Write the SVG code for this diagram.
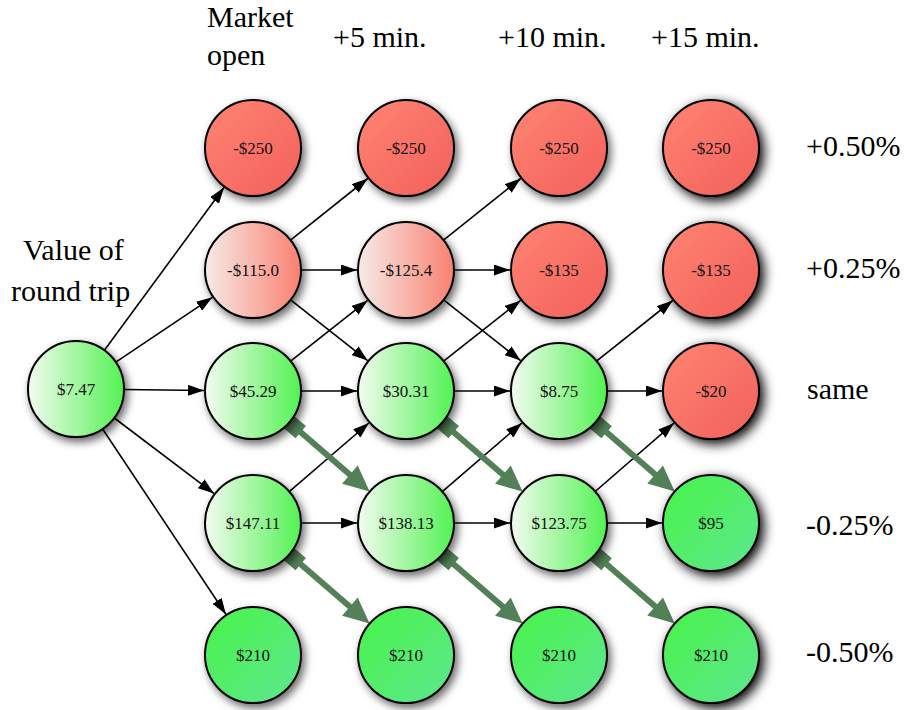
<svg xmlns="http://www.w3.org/2000/svg" width="909" height="710" viewBox="0 0 909 710">
<style>
.lbl{font-size:30px;fill:#000}
.nt{font-size:17px;fill:#111;text-anchor:middle}
.node circle{stroke:#000;stroke-width:2}
.e{stroke:#000;stroke-width:1.6;fill:none;marker-end:url(#ah)}
.g{fill:#538057;stroke:none}
.gl{stroke:#538057;stroke-width:6;fill:none}
.red{fill:url(#gRed)}
.lred{fill:url(#gLRed)}
.lgreen{fill:url(#gLGreen)}
.green{fill:url(#gGreen)}
.sh{filter:url(#shadow)}
.sh2{filter:url(#shadow2)}
</style>
<defs>
<linearGradient id="gRed" x1="0" y1="0" x2="1" y2="1"><stop offset="0" stop-color="#ff8472"/><stop offset="1" stop-color="#f2605c"/></linearGradient>
<linearGradient id="gLRed" x1="0" y1="0" x2="1" y2="0"><stop offset="0" stop-color="#f6ebe8"/><stop offset="1" stop-color="#fa8070"/></linearGradient>
<linearGradient id="gLGreen" x1="0" y1="0" x2="1" y2="0"><stop offset="0" stop-color="#f3fcf0"/><stop offset="1" stop-color="#52f252"/></linearGradient>
<linearGradient id="gGreen" x1="0" y1="0" x2="1" y2="1"><stop offset="0" stop-color="#48f448"/><stop offset="1" stop-color="#5ee690"/></linearGradient>
<filter id="shadow" x="-30%" y="-30%" width="170%" height="170%"><feDropShadow dx="3" dy="4" stdDeviation="4" flood-color="#000" flood-opacity="0.6"/></filter>
<filter id="shadow2" x="-40%" y="-40%" width="180%" height="180%"><feDropShadow dx="4" dy="4" stdDeviation="6" flood-color="#000" flood-opacity="1"/></filter>
<marker id="ah" markerUnits="userSpaceOnUse" markerWidth="16" markerHeight="11" refX="16" refY="5.5" orient="auto"><path d="M0,0 L16,5.5 L0,11 z" fill="#000"/></marker>
</defs>

<g id="labels" font-family="Liberation Serif, Times New Roman, serif">
<text class="lbl" x="207" y="27" font-family="Liberation Serif, serif">Market</text>
<text class="lbl" x="207" y="65" font-family="Liberation Serif, serif">open</text>
<text class="lbl" x="333" y="47" font-family="Liberation Serif, serif">+5 min.</text>
<text class="lbl" x="498" y="47" font-family="Liberation Serif, serif">+10 min.</text>
<text class="lbl" x="651" y="47" font-family="Liberation Serif, serif">+15 min.</text>
<text class="lbl" x="23" y="260" font-family="Liberation Serif, serif">Value of</text>
<text class="lbl" x="11" y="301" font-family="Liberation Serif, serif">round trip</text>
<text class="lbl" x="806" y="156" font-family="Liberation Serif, serif">+0.50%</text>
<text class="lbl" x="806" y="278" font-family="Liberation Serif, serif">+0.25%</text>
<text class="lbl" x="807" y="399" font-family="Liberation Serif, serif">same</text>
<text class="lbl" x="806" y="535" font-family="Liberation Serif, serif">-0.25%</text>
<text class="lbl" x="806" y="662" font-family="Liberation Serif, serif">-0.50%</text>
</g>

<g id="connectors">
<line class="e" x1="104.4" y1="350.3" x2="224.0" y2="187.5"/>
<line class="e" x1="115.8" y1="362.2" x2="212.3" y2="297.3"/>
<line class="e" x1="124" y1="389.5" x2="204" y2="390.5"/>
<line class="e" x1="114.3" y1="418.0" x2="213.9" y2="493.4"/>
<line class="e" x1="102.6" y1="429.0" x2="225.9" y2="614.2"/>

<line class="e" x1="290.5" y1="240.1" x2="367.7" y2="178.5"/>
<line class="e" x1="301" y1="270" x2="357" y2="270"/>
<line class="e" x1="290.6" y1="299.8" x2="367.6" y2="360.6"/>
<line class="e" x1="290.6" y1="361.2" x2="367.6" y2="300.4"/>
<line class="e" x1="301" y1="391" x2="357" y2="391"/>
<line class="e" x1="289.3" y1="491.6" x2="368.9" y2="423.0"/>
<line class="e" x1="301" y1="523" x2="357" y2="523"/>

<line class="e" x1="443.5" y1="240.1" x2="520.7" y2="178.5"/>
<line class="e" x1="454" y1="270" x2="510" y2="270"/>
<line class="e" x1="443.6" y1="299.8" x2="520.6" y2="360.6"/>
<line class="e" x1="443.6" y1="361.2" x2="520.6" y2="300.4"/>
<line class="e" x1="454" y1="391" x2="510" y2="391"/>
<line class="e" x1="442.3" y1="491.6" x2="521.9" y2="423.0"/>
<line class="e" x1="454" y1="523" x2="510" y2="523"/>

<line class="e" x1="596.5" y1="361.1" x2="672.7" y2="300.5"/>
<line class="e" x1="607" y1="391" x2="662" y2="391"/>
<line class="e" x1="595.2" y1="491.5" x2="674.0" y2="423.1"/>
<line class="e" x1="607" y1="523" x2="662" y2="523"/>

<g transform="translate(253,391) rotate(40.79)"><rect class="g" x="47" y="-8" width="16" height="16"/><line class="gl" x1="55" y1="0" x2="130" y2="0"/><polygon class="g" points="154,0 128,-12 128,12"/></g>
<g transform="translate(253,523) rotate(40.79)"><rect class="g" x="47" y="-8" width="16" height="16"/><line class="gl" x1="55" y1="0" x2="130" y2="0"/><polygon class="g" points="154,0 128,-12 128,12"/></g>
<g transform="translate(406,391) rotate(40.79)"><rect class="g" x="47" y="-8" width="16" height="16"/><line class="gl" x1="55" y1="0" x2="130" y2="0"/><polygon class="g" points="154,0 128,-12 128,12"/></g>
<g transform="translate(406,523) rotate(40.79)"><rect class="g" x="47" y="-8" width="16" height="16"/><line class="gl" x1="55" y1="0" x2="130" y2="0"/><polygon class="g" points="154,0 128,-12 128,12"/></g>
<g transform="translate(559,391) rotate(40.97)"><rect class="g" x="47" y="-8" width="16" height="16"/><line class="gl" x1="55" y1="0" x2="129" y2="0"/><polygon class="g" points="153.3,0 127.3,-12 127.3,12"/></g>
<g transform="translate(559,523) rotate(40.97)"><rect class="g" x="47" y="-8" width="16" height="16"/><line class="gl" x1="55" y1="0" x2="129" y2="0"/><polygon class="g" points="153.3,0 127.3,-12 127.3,12"/></g>
</g>

<g font-family="Liberation Serif, serif">
<g id="n_start" class="node"><circle class="lgreen sh" cx="76" cy="389" r="48"/><text class="nt" x="76" y="395">$7.47</text></g>

<g id="n_0_0" class="node"><circle class="red sh" cx="253" cy="148" r="48"/><text class="nt" x="253" y="154">-$250</text></g>
<g id="n_0_1" class="node"><circle class="lred sh" cx="253" cy="270" r="48"/><text class="nt" x="253" y="276">-$115.0</text></g>
<g id="n_0_2" class="node"><circle class="lgreen sh" cx="253" cy="391" r="48"/><text class="nt" x="253" y="397">$45.29</text></g>
<g id="n_0_3" class="node"><circle class="lgreen sh" cx="253" cy="523" r="48"/><text class="nt" x="253" y="529">$147.11</text></g>
<g id="n_0_4" class="node"><circle class="green sh" cx="253" cy="655" r="48"/><text class="nt" x="253" y="661">$210</text></g>

<g id="n_1_0" class="node"><circle class="red sh" cx="406" cy="148" r="48"/><text class="nt" x="406" y="154">-$250</text></g>
<g id="n_1_1" class="node"><circle class="lred sh" cx="406" cy="270" r="48"/><text class="nt" x="406" y="276">-$125.4</text></g>
<g id="n_1_2" class="node"><circle class="lgreen sh" cx="406" cy="391" r="48"/><text class="nt" x="406" y="397">$30.31</text></g>
<g id="n_1_3" class="node"><circle class="lgreen sh" cx="406" cy="523" r="48"/><text class="nt" x="406" y="529">$138.13</text></g>
<g id="n_1_4" class="node"><circle class="green sh" cx="406" cy="655" r="48"/><text class="nt" x="406" y="661">$210</text></g>

<g id="n_2_0" class="node"><circle class="red sh" cx="559" cy="148" r="48"/><text class="nt" x="559" y="154">-$250</text></g>
<g id="n_2_1" class="node"><circle class="red sh" cx="559" cy="270" r="48"/><text class="nt" x="559" y="276">-$135</text></g>
<g id="n_2_2" class="node"><circle class="lgreen sh" cx="559" cy="391" r="48"/><text class="nt" x="559" y="397">$8.75</text></g>
<g id="n_2_3" class="node"><circle class="lgreen sh" cx="559" cy="523" r="48"/><text class="nt" x="559" y="529">$123.75</text></g>
<g id="n_2_4" class="node"><circle class="green sh" cx="559" cy="655" r="48"/><text class="nt" x="559" y="661">$210</text></g>

<g id="n_3_0" class="node"><circle class="red sh2" cx="711" cy="148" r="48"/><text class="nt" x="711" y="154">-$250</text></g>
<g id="n_3_1" class="node"><circle class="red sh2" cx="711" cy="270" r="48"/><text class="nt" x="711" y="276">-$135</text></g>
<g id="n_3_2" class="node"><circle class="red sh2" cx="711" cy="391" r="48"/><text class="nt" x="711" y="397">-$20</text></g>
<g id="n_3_3" class="node"><circle class="green sh2" cx="711" cy="523" r="48"/><text class="nt" x="711" y="529">$95</text></g>
<g id="n_3_4" class="node"><circle class="green sh2" cx="711" cy="655" r="48"/><text class="nt" x="711" y="661">$210</text></g>
</g>
</svg>
